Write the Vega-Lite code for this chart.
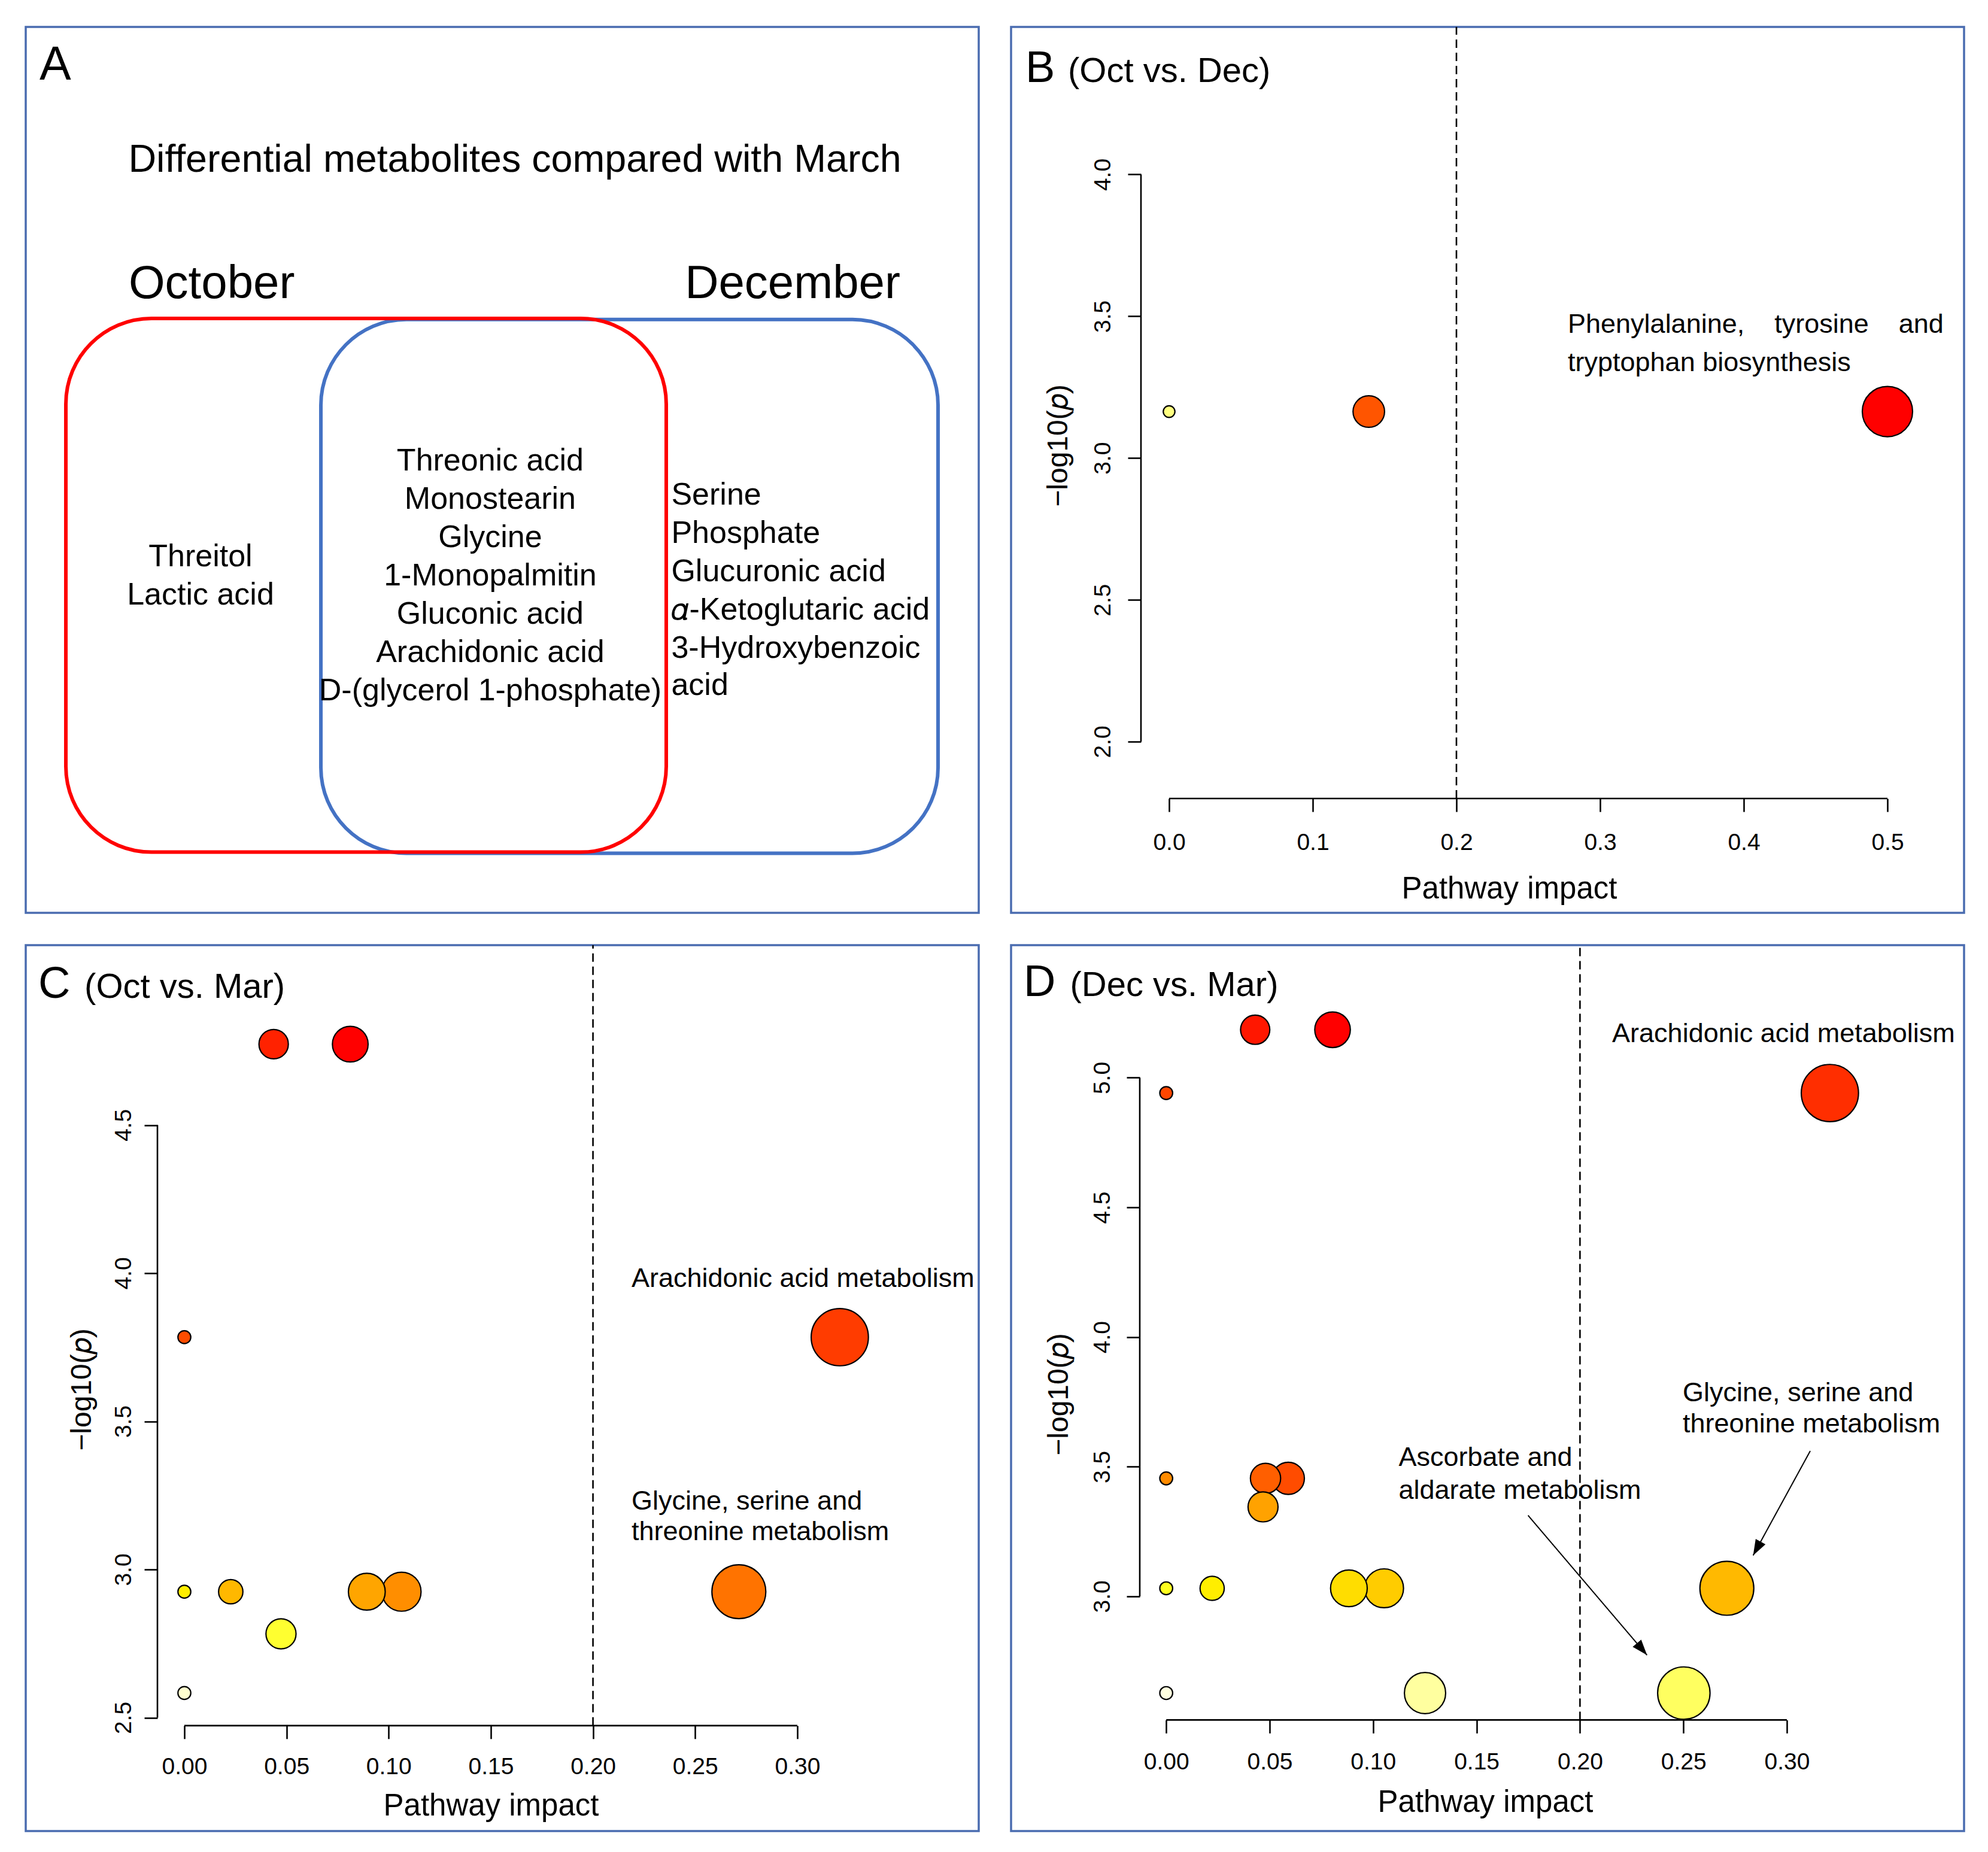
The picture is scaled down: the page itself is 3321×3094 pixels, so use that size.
{
  "$schema": "https://vega.github.io/schema/vega-lite/v6.json",
  "background": "white",
  "padding": {"left": 41, "top": 41, "right": 0, "bottom": 0},
  "spacing": 48,
  "resolve": {"scale": {"color": "independent", "size": "independent", "x": "independent", "y": "independent"}},
  "config": {
    "font": "Liberation Sans",
    "view": {"stroke": "#4A6CB0", "strokeWidth": 3.5},
    "axis": {"domain": false, "grid": false, "tickColor": "#000", "tickWidth": 2.6, "tickSize": 22, "labelColor": "#000", "labelFont": "Liberation Sans", "labelFontSize": 39, "labelFlush": false, "labelOverlap": false, "titleColor": "#000", "titleFont": "Liberation Sans", "titleFontWeight": "normal"},
    "axisX": {"labelBaseline": "alphabetic", "labelAlign": "center", "titleBaseline": "alphabetic", "titleAlign": "center", "titleFontSize": 51},
    "axisY": {"labelAngle": -90, "labelAlign": "center", "labelBaseline": "alphabetic", "titleBaseline": "alphabetic", "titleAlign": "center", "titleAngle": -90, "titleFontSize": 48},
    "text": {"color": "#000", "font": "Liberation Sans"}
  },
  "datasets": {
    "venn": [
      {"metabolite": "Threitol", "region": "October only", "order": 1},
      {"metabolite": "Lactic acid", "region": "October only", "order": 2},
      {"metabolite": "Threonic acid", "region": "Both", "order": 1},
      {"metabolite": "Monostearin", "region": "Both", "order": 2},
      {"metabolite": "Glycine", "region": "Both", "order": 3},
      {"metabolite": "1-Monopalmitin", "region": "Both", "order": 4},
      {"metabolite": "Gluconic acid", "region": "Both", "order": 5},
      {"metabolite": "Arachidonic acid", "region": "Both", "order": 6},
      {"metabolite": "D-(glycerol 1-phosphate)", "region": "Both", "order": 7},
      {"metabolite": "Serine", "region": "December only", "order": 1},
      {"metabolite": "Phosphate", "region": "December only", "order": 2},
      {"metabolite": "Glucuronic acid", "region": "December only", "order": 3},
      {"metabolite": "𝛼-Ketoglutaric acid", "region": "December only", "order": 4},
      {"metabolite": "3-Hydroxybenzoic\nacid", "region": "December only", "order": 5}
    ],
    "oct_dec": [
      {"rank": 1, "impact": 0.5, "logp": 3.164, "label": "Phenylalanine, \u00a0\u00a0\u00a0tyrosine \u00a0\u00a0\u00a0and\ntryptophan biosynthesis"},
      {"rank": 2, "impact": 0.139, "logp": 3.164},
      {"rank": 3, "impact": 0, "logp": 3.164}
    ],
    "oct_mar": [
      {"rank": 1, "impact": 0.0812, "logp": 4.773},
      {"rank": 2, "impact": 0.0437, "logp": 4.773},
      {"rank": 3, "impact": 0.3208, "logp": 3.784, "label": "Arachidonic acid metabolism"},
      {"rank": 4, "impact": 0, "logp": 3.784},
      {"rank": 5, "impact": 0.2714, "logp": 2.925, "label": "Glycine, serine and\nthreonine metabolism"},
      {"rank": 6, "impact": 0.1063, "logp": 2.925},
      {"rank": 7, "impact": 0.0893, "logp": 2.925},
      {"rank": 8, "impact": 0.0227, "logp": 2.925},
      {"rank": 9, "impact": 0, "logp": 2.925},
      {"rank": 10, "impact": 0.0473, "logp": 2.783},
      {"rank": 11, "impact": 0, "logp": 2.583}
    ],
    "dec_mar": [
      {"rank": 1, "impact": 0.0804, "logp": 5.185},
      {"rank": 2, "impact": 0.043, "logp": 5.185},
      {"rank": 3, "impact": 0.3208, "logp": 4.941, "label": "Arachidonic acid metabolism"},
      {"rank": 4, "impact": 0, "logp": 4.941},
      {"rank": 5, "impact": 0.059, "logp": 3.455},
      {"rank": 6, "impact": 0.048, "logp": 3.455},
      {"rank": 7, "impact": 0, "logp": 3.455},
      {"rank": 8, "impact": 0.0468, "logp": 3.345},
      {"rank": 9, "impact": 0.271, "logp": 3.031, "label": "Glycine, serine and\nthreonine metabolism"},
      {"rank": 10, "impact": 0.1053, "logp": 3.031},
      {"rank": 11, "impact": 0.0883, "logp": 3.031},
      {"rank": 12, "impact": 0.0222, "logp": 3.031},
      {"rank": 13, "impact": 0, "logp": 3.031},
      {"rank": 14, "impact": 0.2502, "logp": 2.627, "label": "Ascorbate and\naldarate metabolism"},
      {"rank": 15, "impact": 0.1251, "logp": 2.627},
      {"rank": 16, "impact": 0, "logp": 2.627}
    ],
    "dec_mar_arrows": [
      {"target": "Glycine, serine and threonine metabolism", "x_from": 0.3113, "y_from": 3.5607, "x_to": 0.2837, "y_to": 3.1581},
      {"target": "Ascorbate and aldarate metabolism", "x_from": 0.1749, "y_from": 3.3121, "x_to": 0.2324, "y_to": 2.7735}
    ]
  },
  "vconcat": [
    {
      "spacing": 50,
      "resolve": {"scale": {"color": "independent", "size": "independent", "x": "independent", "y": "independent"}},
      "hconcat": [
        {
          "width": 1592, "height": 1480,
          "resolve": {"scale": {"y": "independent"}},
          "layer": [
            {
              "layer": [
                {
                  "data": {"values": [{"set": "December"}]},
                  "mark": {"type": "rect", "fill": "white", "fillOpacity": 0, "stroke": "#4472C4", "strokeWidth": 6, "cornerRadius": 143},
                  "encoding": {
                    "x": {"datum": 30.97, "type": "quantitative", "scale": {"domain": [0, 100], "nice": false, "zero": false}, "axis": null},
                    "x2": {"datum": 95.73},
                    "y": {"datum": 33.03, "type": "quantitative", "scale": {"domain": [0, 100], "reverse": true, "nice": false, "zero": false}, "axis": null},
                    "y2": {"datum": 93.28}
                  }
                },
                {
                  "data": {"values": [{"set": "October"}]},
                  "mark": {"type": "rect", "fill": "white", "fillOpacity": 0, "stroke": "#FF0000", "strokeWidth": 6, "cornerRadius": 143},
                  "encoding": {
                    "x": {"datum": 4.21, "type": "quantitative", "axis": null},
                    "x2": {"datum": 67.21},
                    "y": {"datum": 32.9, "type": "quantitative", "axis": null},
                    "y2": {"datum": 93.15}
                  }
                },
                {
                  "data": {"values": [{"panel": "A"}]},
                  "mark": {"type": "text", "align": "left", "baseline": "alphabetic", "fontSize": 79},
                  "encoding": {
                    "x": {"datum": 1.44, "type": "quantitative", "axis": null},
                    "y": {"datum": 5.95, "type": "quantitative", "axis": null},
                    "text": {"field": "panel"}
                  }
                },
                {
                  "data": {"values": [{"heading": "Differential metabolites compared with March"}]},
                  "mark": {"type": "text", "align": "center", "baseline": "alphabetic", "fontSize": 64.6},
                  "encoding": {
                    "x": {"datum": 51.32, "type": "quantitative", "axis": null},
                    "y": {"datum": 16.35, "type": "quantitative", "axis": null},
                    "text": {"field": "heading"}
                  }
                },
                {
                  "data": {"values": [{"set": "October"}]},
                  "mark": {"type": "text", "align": "left", "baseline": "alphabetic", "fontSize": 78},
                  "encoding": {
                    "x": {"datum": 10.8, "type": "quantitative", "axis": null},
                    "y": {"datum": 30.61, "type": "quantitative", "axis": null},
                    "text": {"field": "set"}
                  }
                },
                {
                  "data": {"values": [{"set": "December"}]},
                  "mark": {"type": "text", "align": "right", "baseline": "alphabetic", "fontSize": 78},
                  "encoding": {
                    "x": {"datum": 91.77, "type": "quantitative", "axis": null},
                    "y": {"datum": 30.61, "type": "quantitative", "axis": null},
                    "text": {"field": "set"}
                  }
                }
              ]
            },
            {
              "data": {"name": "venn"},
              "transform": [{"filter": {"field": "region", "equal": "October only"}}],
              "mark": {"type": "text", "align": "center", "baseline": "alphabetic", "fontSize": 52},
              "encoding": {
                "x": {"datum": 18.34, "type": "quantitative", "axis": null},
                "y": {"field": "order", "type": "quantitative", "scale": {"domain": [1, 2], "range": [900.9, 965.3], "nice": false, "zero": false}, "axis": null},
                "text": {"field": "metabolite"}
              }
            },
            {
              "data": {"name": "venn"},
              "transform": [{"filter": {"field": "region", "equal": "Both"}}],
              "mark": {"type": "text", "align": "center", "baseline": "alphabetic", "fontSize": 52},
              "encoding": {
                "x": {"datum": 48.74, "type": "quantitative", "axis": null},
                "y": {"field": "order", "type": "quantitative", "scale": {"domain": [1, 7], "range": [741.4, 1124.8], "nice": false, "zero": false}, "axis": null},
                "text": {"field": "metabolite"}
              }
            },
            {
              "data": {"name": "venn"},
              "transform": [{"filter": {"field": "region", "equal": "December only"}}],
              "mark": {"type": "text", "align": "left", "baseline": "alphabetic", "fontSize": 52, "lineBreak": "\n", "lineHeight": 62.4},
              "encoding": {
                "x": {"datum": 67.74, "type": "quantitative", "axis": null},
                "y": {"field": "order", "type": "quantitative", "scale": {"domain": [1, 5], "range": [797.9, 1053.7], "nice": false, "zero": false}, "axis": null},
                "text": {"field": "metabolite"}
              }
            }
          ]
        },
        {
          "width": 1592, "height": 1480,
          "data": {"name": "oct_dec"},
          "layer": [
            {
              "data": {"values": [{"threshold": 0.2}]},
              "mark": {"type": "rule", "strokeDash": [14, 8], "strokeWidth": 2.6, "color": "#000"},
              "encoding": {
                "x": {"field": "threshold", "type": "quantitative"},
                "y": {"datum": 1.7995, "type": "quantitative"},
                "y2": {"datum": 4.5203}
              }
            },
            {
              "data": {"values": [{"start": 0, "end": 0.5}]},
              "mark": {"type": "rule", "strokeWidth": 2.6, "color": "#000"},
              "encoding": {
                "x": {"field": "start", "type": "quantitative"},
                "x2": {"field": "end"},
                "y": {"datum": 1.7995, "type": "quantitative"}
              }
            },
            {
              "data": {"values": [{"start": 2, "end": 4}]},
              "mark": {"type": "rule", "strokeWidth": 2.6, "color": "#000"},
              "encoding": {
                "y": {"field": "start", "type": "quantitative"},
                "y2": {"field": "end"},
                "x": {"datum": -0.01958, "type": "quantitative"}
              }
            },
            {
              "mark": {"type": "circle", "stroke": "#000", "strokeWidth": 2.2, "opacity": 1},
              "encoding": {
                "x": {"field": "impact", "type": "quantitative", "scale": {"domain": [-0.11, 0.55333], "nice": false, "zero": false},
                  "axis": {"values": [0, 0.1, 0.2, 0.3, 0.4, 0.5], "format": ".1f", "offset": -191, "labelPadding": 63, "title": "Pathway impact", "titleX": 832, "titleY": 166}},
                "y": {"field": "logp", "type": "quantitative", "scale": {"domain": [1.3963, 4.5203], "nice": false, "zero": false},
                  "axis": {"values": [2, 2.5, 3, 3.5, 4], "format": ".1f", "offset": -217, "labelPadding": 30, "title": "−log10(𝑝)", "titleX": -124, "titleY": 699}},
                "size": {"field": "impact", "type": "quantitative", "scale": {"type": "pow", "exponent": 0.8, "domain": [0, 0.5], "range": [380, 7056]}, "legend": null},
                "color": {"field": "rank", "type": "ordinal", "scale": {"domain": [1, 2, 3], "range": ["#FF0000", "#FF5500", "#FFFF80"]}, "legend": null}
              }
            },
            {
              "transform": [{"filter": "isValid(datum.label)"}],
              "mark": {"type": "text", "align": "left", "baseline": "alphabetic", "dx": -534, "dy": -131.4, "fontSize": 45, "lineBreak": "\n", "lineHeight": 64},
              "encoding": {
                "x": {"field": "impact", "type": "quantitative"},
                "y": {"field": "logp", "type": "quantitative"},
                "text": {"field": "label"}
              }
            },
            {
              "data": {"values": [{"panel": "B", "comparison": "(Oct vs. Dec)"}]},
              "mark": {"type": "text", "align": "left", "baseline": "alphabetic", "fontSize": 74},
              "encoding": {
                "x": {"datum": -0.1, "type": "quantitative"},
                "y": {"datum": 4.3257, "type": "quantitative"},
                "text": {"field": "panel"}
              }
            },
            {
              "data": {"values": [{"panel": "B", "comparison": "(Oct vs. Dec)"}]},
              "mark": {"type": "text", "align": "left", "baseline": "alphabetic", "fontSize": 58},
              "encoding": {
                "x": {"datum": -0.0704, "type": "quantitative"},
                "y": {"datum": 4.3257, "type": "quantitative"},
                "text": {"field": "comparison"}
              }
            }
          ]
        }
      ]
    },
    {
      "spacing": 50,
      "resolve": {"scale": {"color": "independent", "size": "independent", "x": "independent", "y": "independent"}},
      "hconcat": [
        {
          "width": 1592, "height": 1480,
          "data": {"name": "oct_mar"},
          "layer": [
            {
              "data": {"values": [{"threshold": 0.2}]},
              "mark": {"type": "rule", "strokeDash": [14, 8], "strokeWidth": 2.6, "color": "#000"},
              "encoding": {
                "x": {"field": "threshold", "type": "quantitative"},
                "y": {"datum": 2.4731, "type": "quantitative"},
                "y2": {"datum": 5.1071}
              }
            },
            {
              "data": {"values": [{"start": 0, "end": 0.3}]},
              "mark": {"type": "rule", "strokeWidth": 2.6, "color": "#000"},
              "encoding": {
                "x": {"field": "start", "type": "quantitative"},
                "x2": {"field": "end"},
                "y": {"datum": 2.4731, "type": "quantitative"}
              }
            },
            {
              "data": {"values": [{"start": 2.5, "end": 4.5}]},
              "mark": {"type": "rule", "strokeWidth": 2.6, "color": "#000"},
              "encoding": {
                "y": {"field": "start", "type": "quantitative"},
                "y2": {"field": "end"},
                "x": {"datum": -0.01318, "type": "quantitative"}
              }
            },
            {
              "mark": {"type": "circle", "stroke": "#000", "strokeWidth": 2.2, "opacity": 1},
              "encoding": {
                "x": {"field": "impact", "type": "quantitative", "scale": {"domain": [-0.07764, 0.38881], "nice": false, "zero": false},
                  "axis": {"values": [0, 0.05, 0.1, 0.15, 0.2, 0.25, 0.3], "format": ".2f", "offset": -176.2, "labelPadding": 59, "title": "Pathway impact", "titleX": 777, "titleY": 150}},
                "y": {"field": "logp", "type": "quantitative", "scale": {"domain": [2.1172, 5.1071], "nice": false, "zero": false},
                  "axis": {"values": [2.5, 3, 3.5, 4, 4.5], "format": ".1f", "offset": -220, "labelPadding": 23, "title": "−log10(𝑝)", "titleX": -112, "titleY": 742}},
                "size": {"field": "impact", "type": "quantitative", "scale": {"type": "pow", "exponent": 0.75, "domain": [0, 0.32], "range": [462, 9120]}, "legend": null},
                "color": {"field": "rank", "type": "ordinal", "scale": {"domain": [1, 2, 3, 4, 5, 6, 7, 8, 9, 10, 11], "range": ["#FF0000", "#FF2200", "#FF3C00", "#FF4C00", "#FF7300", "#FF8E00", "#FFA500", "#FFB800", "#FFEE00", "#FFFF30", "#FFFFCF"]}, "legend": null}
              }
            },
            {
              "transform": [{"filter": {"field": "label", "equal": "Arachidonic acid metabolism"}}],
              "mark": {"type": "text", "align": "left", "baseline": "alphabetic", "dx": -348, "dy": -83.7, "fontSize": 45},
              "encoding": {
                "x": {"field": "impact", "type": "quantitative"},
                "y": {"field": "logp", "type": "quantitative"},
                "text": {"field": "label"}
              }
            },
            {
              "transform": [{"filter": {"field": "label", "equal": "Glycine, serine and\nthreonine metabolism"}}],
              "mark": {"type": "text", "align": "left", "baseline": "alphabetic", "dx": -179.3, "dy": -137.3, "fontSize": 45, "lineBreak": "\n", "lineHeight": 51.6},
              "encoding": {
                "x": {"field": "impact", "type": "quantitative"},
                "y": {"field": "logp", "type": "quantitative"},
                "text": {"field": "label"}
              }
            },
            {
              "data": {"values": [{"panel": "C", "comparison": "(Oct vs. Mar)"}]},
              "mark": {"type": "text", "align": "left", "baseline": "alphabetic", "fontSize": 74},
              "encoding": {
                "x": {"datum": -0.0715, "type": "quantitative"},
                "y": {"datum": 4.9293, "type": "quantitative"},
                "text": {"field": "panel"}
              }
            },
            {
              "data": {"values": [{"panel": "C", "comparison": "(Oct vs. Mar)"}]},
              "mark": {"type": "text", "align": "left", "baseline": "alphabetic", "fontSize": 58},
              "encoding": {
                "x": {"datum": -0.0489, "type": "quantitative"},
                "y": {"datum": 4.9293, "type": "quantitative"},
                "text": {"field": "comparison"}
              }
            }
          ]
        },
        {
          "width": 1592, "height": 1480,
          "data": {"name": "dec_mar"},
          "layer": [
            {
              "data": {"values": [{"threshold": 0.2}]},
              "mark": {"type": "rule", "strokeDash": [14, 8], "strokeWidth": 2.6, "color": "#000"},
              "encoding": {
                "x": {"field": "threshold", "type": "quantitative"},
                "y": {"datum": 2.5233, "type": "quantitative"},
                "y2": {"datum": 5.5113}
              }
            },
            {
              "data": {"values": [{"start": 0, "end": 0.3}]},
              "mark": {"type": "rule", "strokeWidth": 2.6, "color": "#000"},
              "encoding": {
                "x": {"field": "start", "type": "quantitative"},
                "x2": {"field": "end"},
                "y": {"datum": 2.5233, "type": "quantitative"}
              }
            },
            {
              "data": {"values": [{"start": 3, "end": 5}]},
              "mark": {"type": "rule", "strokeWidth": 2.6, "color": "#000"},
              "encoding": {
                "y": {"field": "start", "type": "quantitative"},
                "y2": {"field": "end"},
                "x": {"datum": -0.01279, "type": "quantitative"}
              }
            },
            {
              "mark": {"type": "circle", "stroke": "#000", "strokeWidth": 2.2, "opacity": 1},
              "encoding": {
                "x": {"field": "impact", "type": "quantitative", "scale": {"domain": [-0.075, 0.38565], "nice": false, "zero": false},
                  "axis": {"values": [0, 0.05, 0.1, 0.15, 0.2, 0.25, 0.3], "format": ".2f", "offset": -185.6, "labelPadding": 60, "title": "Pathway impact", "titleX": 792, "titleY": 153}},
                "y": {"field": "logp", "type": "quantitative", "scale": {"domain": [2.0949, 5.5113], "nice": false, "zero": false},
                  "axis": {"values": [3, 3.5, 4, 4.5, 5], "format": ".1f", "offset": -215, "labelPadding": 29, "title": "−log10(𝑝)", "titleX": -121, "titleY": 750}},
                "size": {"field": "impact", "type": "quantitative", "scale": {"type": "pow", "exponent": 0.75, "domain": [0, 0.32], "range": [462, 9120]}, "legend": null},
                "color": {"field": "rank", "type": "ordinal", "scale": {"domain": [1, 2, 3, 4, 5, 6, 7, 8, 9, 10, 11, 12, 13, 14, 15, 16], "range": ["#FF0000", "#FF1700", "#FF2E00", "#FF4600", "#FF4C00", "#FF5F00", "#FF8B00", "#FFA200", "#FFB900", "#FFCC00", "#FFDD00", "#FFEE00", "#FFFF20", "#FFFF60", "#FFFF9F", "#FFFFDF"]}, "legend": null}
              }
            },
            {
              "data": {"name": "dec_mar_arrows"},
              "mark": {"type": "rule", "strokeWidth": 2, "color": "#000"},
              "encoding": {
                "x": {"field": "x_from", "type": "quantitative"},
                "y": {"field": "y_from", "type": "quantitative"},
                "x2": {"field": "x_to"},
                "y2": {"field": "y_to"}
              }
            },
            {
              "data": {"name": "dec_mar_arrows"},
              "transform": [{"filter": {"field": "target", "equal": "Glycine, serine and threonine metabolism"}}],
              "mark": {"type": "point", "shape": "M0,0L-0.36,1L0.36,1Z", "filled": true, "color": "#000", "opacity": 1, "size": 2704, "angle": 208.6},
              "encoding": {
                "x": {"field": "x_to", "type": "quantitative"},
                "y": {"field": "y_to", "type": "quantitative"}
              }
            },
            {
              "data": {"name": "dec_mar_arrows"},
              "transform": [{"filter": {"field": "target", "equal": "Ascorbate and aldarate metabolism"}}],
              "mark": {"type": "point", "shape": "M0,0L-0.36,1L0.36,1Z", "filled": true, "color": "#000", "opacity": 1, "size": 2704, "angle": 139.6},
              "encoding": {
                "x": {"field": "x_to", "type": "quantitative"},
                "y": {"field": "y_to", "type": "quantitative"}
              }
            },
            {
              "transform": [{"filter": {"field": "label", "equal": "Arachidonic acid metabolism"}}],
              "mark": {"type": "text", "align": "left", "baseline": "alphabetic", "dx": -363.8, "dy": -84.7, "fontSize": 45},
              "encoding": {
                "x": {"field": "impact", "type": "quantitative"},
                "y": {"field": "logp", "type": "quantitative"},
                "text": {"field": "label"}
              }
            },
            {
              "transform": [{"filter": {"field": "label", "equal": "Glycine, serine and\nthreonine metabolism"}}],
              "mark": {"type": "text", "align": "left", "baseline": "alphabetic", "dx": -73.7, "dy": -312.3, "fontSize": 45, "lineBreak": "\n", "lineHeight": 51.4},
              "encoding": {
                "x": {"field": "impact", "type": "quantitative"},
                "y": {"field": "logp", "type": "quantitative"},
                "text": {"field": "label"}
              }
            },
            {
              "transform": [{"filter": {"field": "label", "equal": "Ascorbate and\naldarate metabolism"}}],
              "mark": {"type": "text", "align": "left", "baseline": "alphabetic", "dx": -476.5, "dy": -379, "fontSize": 45, "lineBreak": "\n", "lineHeight": 55},
              "encoding": {
                "x": {"field": "impact", "type": "quantitative"},
                "y": {"field": "logp", "type": "quantitative"},
                "text": {"field": "label"}
              }
            },
            {
              "data": {"values": [{"panel": "D", "comparison": "(Dec vs. Mar)"}]},
              "mark": {"type": "text", "align": "left", "baseline": "alphabetic", "fontSize": 74},
              "encoding": {
                "x": {"datum": -0.0689, "type": "quantitative"},
                "y": {"datum": 5.3142, "type": "quantitative"},
                "text": {"field": "panel"}
              }
            },
            {
              "data": {"values": [{"panel": "D", "comparison": "(Dec vs. Mar)"}]},
              "mark": {"type": "text", "align": "left", "baseline": "alphabetic", "fontSize": 58},
              "encoding": {
                "x": {"datum": -0.0465, "type": "quantitative"},
                "y": {"datum": 5.3142, "type": "quantitative"},
                "text": {"field": "comparison"}
              }
            }
          ]
        }
      ]
    }
  ]
}
